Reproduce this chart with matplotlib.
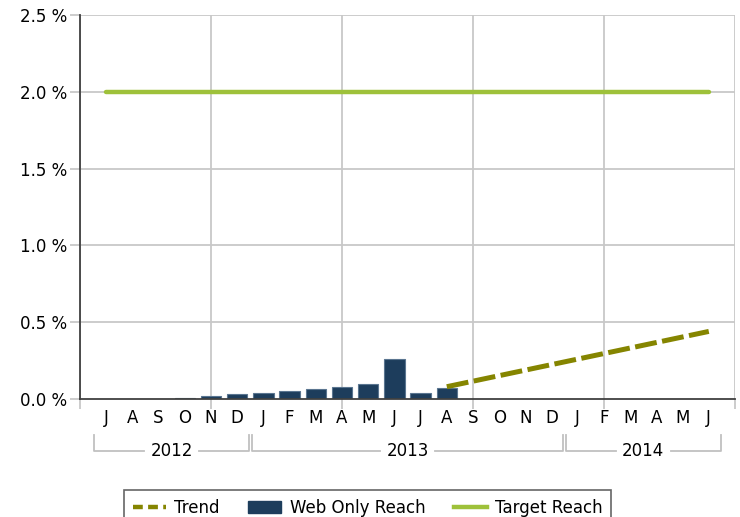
import numpy as np
import matplotlib.pyplot as plt
from matplotlib.lines import Line2D
from matplotlib.patches import Patch

# monthly categories Jul 2012 .. Jun 2014
months = ['J', 'A', 'S', 'O', 'N', 'D', 'J', 'F', 'M', 'A', 'M', 'J',
          'J', 'A', 'S', 'O', 'N', 'D', 'J', 'F', 'M', 'A', 'M', 'J']
years = ['2012', '2013', '2014']
year_spans = [(0, 5), (6, 17), (18, 23)]

# web only reach in %, O 2012 .. A 2013
reach_idx = [3, 4, 5, 6, 7, 8, 9, 10, 11, 12, 13]
reach = [0.008, 0.02, 0.03, 0.04, 0.05, 0.065, 0.078, 0.10, 0.262, 0.04, 0.074]

# trend (start and end), target
trend_idx = [13, 23]
trend = [0.08, 0.44]
target_idx = [0, 23]
target = [2.0, 2.0]

yticks = [0.0, 0.5, 1.0, 1.5, 2.0, 2.5]

bar_c = '#1d3d5c'
trend_c = '#858500'
target_c = '#9ec13a'
grid_c = '#c8c8c8'
fs = 12

fig = plt.figure(figsize=(7.4, 5.17), dpi=100)
ax = fig.add_axes([80 / 740, 1 - 399 / 517, 655 / 740, 384 / 517])

ax.bar(reach_idx, reach, width=0.78, color=bar_c, edgecolor='#5a7590', linewidth=0.8, zorder=3)
ax.plot(trend_idx, trend, color=trend_c, lw=3.6, dashes=(4.4, 1.1),
        dash_capstyle='butt', solid_capstyle='round', zorder=4)
ax.plot(target_idx, target, color=target_c, lw=3.2, solid_capstyle='round', zorder=4)

ax.set_xlim(-1, 24)
ax.set_ylim(0, 2.5)

# grid
for g in [-1, 4, 9, 14, 19, 24]:
    ax.axvline(g, color=grid_c, lw=1.3, zorder=1)
for yv in yticks[1:]:
    ax.axhline(yv, color=grid_c, lw=1.3, zorder=1)

ax.set_yticks(yticks)
ax.set_yticklabels(['%.1f %%' % v for v in yticks], fontsize=fs)
ax.set_xticks([-1, 4, 9, 14, 19, 24])
ax.set_xticklabels([])
ax.tick_params(axis='both', color=grid_c, length=7, width=1.3)
ax.tick_params(axis='y', pad=2)

for s in ['top', 'right']:
    ax.spines[s].set_visible(False)
for s in ['left', 'bottom']:
    ax.spines[s].set_color('#404040')
    ax.spines[s].set_linewidth(1.3)
    ax.spines[s].set_zorder(5)

# month labels and year brackets
tr = ax.get_xaxis_transform()
for i, m in enumerate(months):
    ax.text(i, -0.05, m, transform=tr, ha='center', va='center', fontsize=fs)

y_top = (399 - 435) / 384
y_bot = (399 - 451) / 384
for yr, (a, b) in zip(years, year_spans):
    x0, x1 = a - 0.45, b + 0.45
    mid = (a + b) / 2
    half = 1.05
    kw = dict(color='#c0c0c0', lw=1.3, transform=tr, clip_on=False)
    ax.plot([x0, x0, mid - half], [y_top, y_bot, y_bot], **kw)
    ax.plot([mid + half, x1, x1], [y_bot, y_bot, y_top], **kw)
    ax.text(mid, y_bot, yr, transform=tr, ha='center', va='center', fontsize=fs)

handles = [Line2D([], [], color=trend_c, lw=3.2, dashes=(2.2, 1.2)),
           Patch(facecolor=bar_c, edgecolor=bar_c),
           Line2D([], [], color=target_c, lw=3.2)]
leg = fig.legend(handles, ['Trend', 'Web Only Reach', 'Target Reach'],
                 loc='upper center', bbox_to_anchor=(0.497, 1 - 482 / 517), ncol=3,
                 fontsize=fs, frameon=True, fancybox=False, handlelength=2.0,
                 columnspacing=1.7, borderpad=0.5, handletextpad=0.5)
leg.get_frame().set_edgecolor('#404040')
leg.get_frame().set_linewidth(1.2)

fig.savefig('out.png', dpi=100)
